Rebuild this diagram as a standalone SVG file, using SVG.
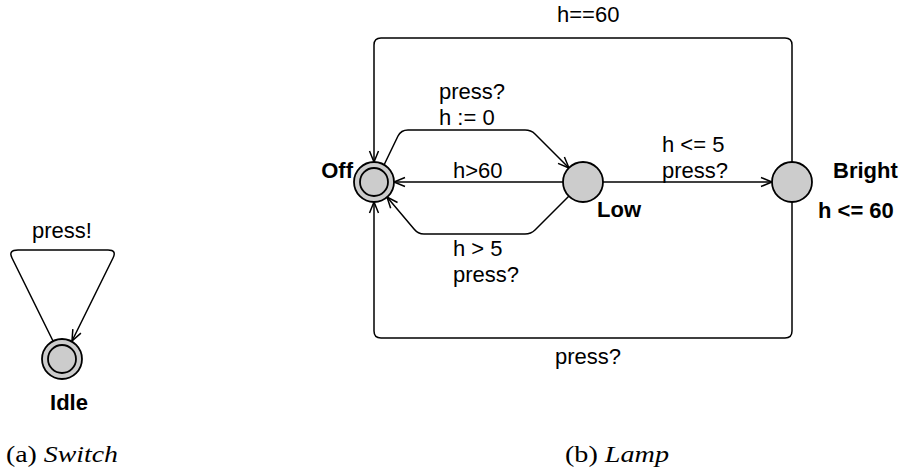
<svg xmlns="http://www.w3.org/2000/svg" width="901" height="472" viewBox="0 0 901 472">
<style>
.edge{fill:none;stroke:#000;stroke-width:1.5;stroke-linejoin:round}
.node{fill:#cccccc;stroke:#000;stroke-width:1.8}
.inner{fill:#cccccc;stroke:#000;stroke-width:1.8}
.lbl{font-family:"Liberation Sans",Arial,sans-serif;font-size:22px;fill:#000}
.name{font-family:"Liberation Sans",Arial,sans-serif;font-size:22px;font-weight:bold;fill:#000}
.cap{font-family:"Liberation Serif","Times New Roman",serif;font-size:24px;fill:#000}
</style>
<defs>
<marker id="arr" markerUnits="userSpaceOnUse" markerWidth="14" markerHeight="12" viewBox="-12 -6 14 12" refX="0" refY="0" orient="auto">
<path d="M-11,-4.5 L0,0 L-11,4.5" fill="none" stroke="#000" stroke-width="1.5"/>
</marker>
</defs>
<rect width="901" height="472" fill="#fff"/>
<g id="connectors">
<path class="edge" d="M53,341 L12,258 Q8,250 18,250 L108,250 Q117,250 113,258 L72,341" marker-end="url(#arr)"/>
<path class="edge" d="M792,162 L792,45 Q792,38 785,38 L381,38 Q374,38 374,45 L374,162" marker-end="url(#arr)"/>
<path class="edge" d="M792,202 L792,331 Q792,338 785,338 L381,338 Q374,338 374,331 L374,202" marker-end="url(#arr)"/>
<path class="edge" d="M384,165 L398,136 Q401,130 408,130 L525,130 Q531,130 535,134 L569,168" marker-end="url(#arr)"/>
<path class="edge" d="M563,182 L394,182" marker-end="url(#arr)"/>
<path class="edge" d="M569,196 L535,230 Q531,234 525,234 L424,234 Q418,234 414,229 L387,197" marker-end="url(#arr)"/>
<path class="edge" d="M603,182 L772,182" marker-end="url(#arr)"/>
</g>
<g id="edge-labels">
<text class="lbl" x="62" y="238" text-anchor="middle">press!</text>
<text class="lbl" x="557" y="22">h==60</text>
<text class="lbl" x="555" y="364">press?</text>
<text class="lbl" x="439" y="99">press?</text>
<text class="lbl" x="439" y="125">h := 0</text>
<text class="lbl" x="453" y="178">h&gt;60</text>
<text class="lbl" x="453" y="256">h &gt; 5</text>
<text class="lbl" x="453" y="282">press?</text>
<text class="lbl" x="662" y="152">h &lt;= 5</text>
<text class="lbl" x="662" y="178">press?</text>
</g>
<g id="Idle">
<circle class="node" cx="62" cy="359" r="20"/>
<circle class="inner" cx="62" cy="359" r="14"/>
<text class="name" x="69" y="410" text-anchor="middle">Idle</text>
</g>
<g id="Off">
<circle class="node" cx="374" cy="182" r="20"/>
<circle class="inner" cx="374" cy="182" r="14"/>
<text class="name" x="353" y="178" text-anchor="end">Off</text>
</g>
<g id="Low">
<circle class="node" cx="583" cy="182" r="20"/>
<text class="name" x="597" y="217">Low</text>
</g>
<g id="Bright">
<circle class="node" cx="792" cy="182" r="20"/>
<text class="name" x="833" y="178">Bright</text>
<text class="name" x="818" y="218">h &lt;= 60</text>
</g>
<g id="captions">
<text class="cap" x="6" y="462" textLength="112" lengthAdjust="spacingAndGlyphs">(a) <tspan font-style="italic">Switch</tspan></text>
<text class="cap" x="565" y="462" textLength="104" lengthAdjust="spacingAndGlyphs">(b) <tspan font-style="italic">Lamp</tspan></text>
</g>
</svg>
